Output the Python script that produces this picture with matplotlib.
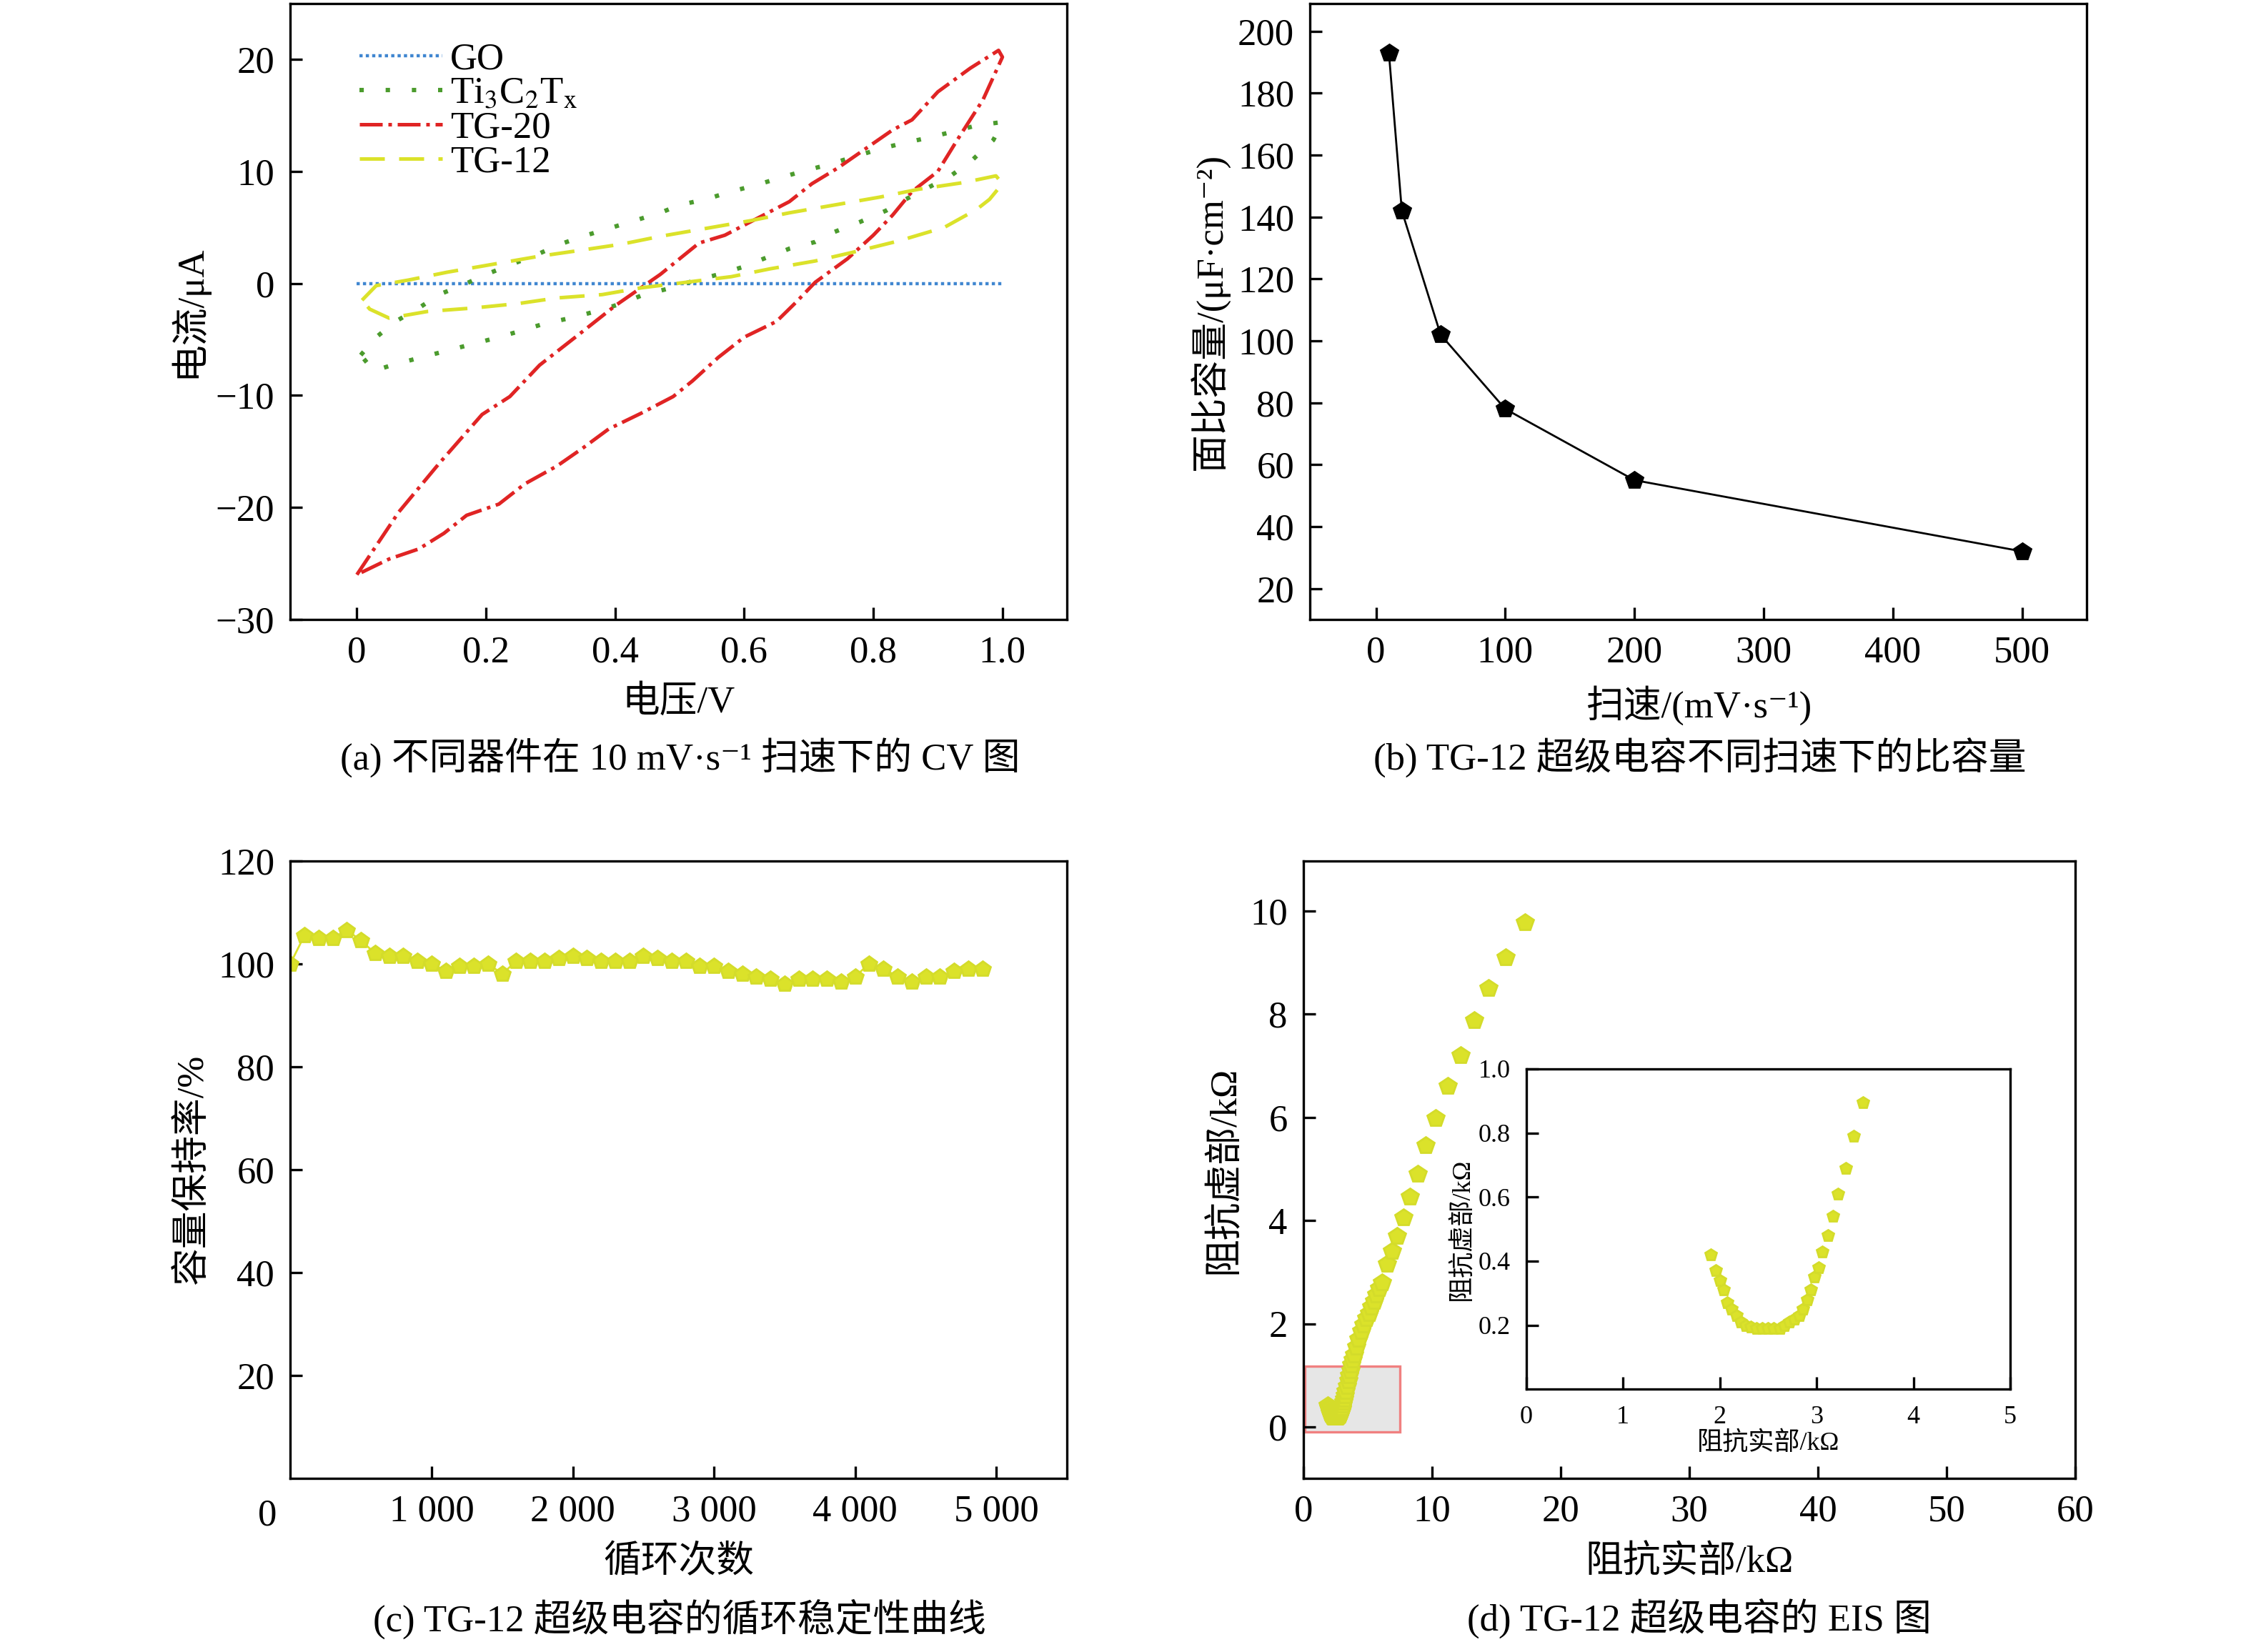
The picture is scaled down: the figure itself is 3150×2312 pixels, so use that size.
import matplotlib
matplotlib.use("Agg")
import matplotlib.pyplot as plt
from matplotlib.patches import Rectangle

plt.rcParams['font.family'] = ['Liberation Serif', 'Noto Sans CJK SC', 'DejaVu Serif']
plt.rcParams['mathtext.fontset'] = 'stix'
plt.rcParams['axes.linewidth'] = 1.2

# (a) CV curves
go_v = [0.0, 1.0]
go_i = [0.0, 0.0]
ti_v = [0.006, 0.03, 0.06, 0.096, 0.127, 0.166, 0.2, 0.24, 0.28, 0.315, 0.35, 0.39, 0.43, 0.47, 0.5, 0.54,
        0.58, 0.62, 0.66, 0.69, 0.73, 0.77, 0.81, 0.845, 0.885, 0.92, 0.96, 1.0,
        0.986, 0.955, 0.92, 0.85, 0.82, 0.78, 0.74, 0.71, 0.67, 0.63, 0.6, 0.56, 0.52, 0.48, 0.44, 0.41,
        0.37, 0.33, 0.29, 0.25, 0.22, 0.18, 0.14, 0.1, 0.06, 0.026, 0.006]
ti_i = [-6.4, -4.8, -3.4, -2.2, -1.0, -0.1, 0.8, 1.7, 2.6, 3.5, 4.2, 4.9, 5.6, 6.3, 7.0, 7.5,
        8.2, 8.8, 9.5, 10.0, 10.6, 11.3, 12.0, 12.5, 13.0, 13.5, 14.1, 14.4,
        12.8, 11.1, 9.6, 7.5, 6.5, 5.5, 4.6, 3.7, 3.1, 2.2, 1.5, 0.8, 0.2, -0.5, -1.1, -1.8,
        -2.5, -3.1, -3.6, -4.3, -4.8, -5.4, -6.0, -6.6, -7.2, -7.8, -6.4]
tg20_v = [0.0, 0.065, 0.127, 0.194, 0.237, 0.283, 0.354, 0.4, 0.47, 0.53, 0.57, 0.64, 0.67, 0.705, 0.745,
          0.79, 0.83, 0.86, 0.9, 0.95, 0.994, 1.0,
          0.97, 0.93, 0.9, 0.86, 0.83, 0.8, 0.76, 0.71, 0.68, 0.65, 0.6, 0.56, 0.52, 0.49, 0.44, 0.39,
          0.35, 0.31, 0.26, 0.22, 0.17, 0.135, 0.096, 0.05, 0.0]
tg20_i = [-26.0, -20.4, -16.1, -11.7, -10.1, -7.3, -4.1, -2.0, 0.8, 3.6, 4.3, 6.4, 7.3, 8.9, 10.3,
          12.1, 13.7, 14.6, 17.1, 19.2, 20.8, 20.2,
          16.4, 12.8, 10.0, 8.2, 6.1, 4.3, 2.2, 0.1, -1.7, -3.4, -4.8, -6.6, -8.7, -10.1, -11.6, -13.0,
          -14.7, -16.3, -17.9, -19.7, -20.7, -22.3, -23.7, -24.6, -26.0]
tg12_v = [0.008, 0.03, 0.08, 0.14, 0.21, 0.28, 0.34, 0.41, 0.47, 0.54, 0.61, 0.67, 0.74, 0.81, 0.87, 0.94,
          0.99, 1.0, 0.98, 0.96, 0.91, 0.84, 0.77, 0.71, 0.64, 0.58, 0.51, 0.44, 0.38, 0.31, 0.25, 0.18,
          0.11, 0.05, 0.02, 0.008]
tg12_i = [-1.5, -0.2, 0.3, 1.0, 1.7, 2.4, 2.9, 3.5, 4.2, 4.9, 5.6, 6.3, 7.0, 7.7, 8.4, 9.0,
          9.6, 8.9, 7.5, 6.6, 5.0, 3.8, 2.8, 2.0, 1.3, 0.6, 0.1, -0.4, -1.0, -1.3, -1.8, -2.2,
          -2.5, -3.1, -2.3, -1.5]

# (b) specific capacitance vs scan rate
rate = [10, 20, 50, 100, 200, 500]
cap = [193, 142, 102, 78, 55, 32]

# (c) cycling stability
cycles = list(range(0, 5000, 100))
retention = [100, 105.5, 105, 105, 106.5, 104.5, 102, 101.5, 101.5, 100.5, 100, 98.5, 99.5, 99.5, 100,
             98, 100.5, 100.5, 100.5, 101, 101.5, 101, 100.5, 100.5, 100.5, 101.5, 101, 100.5, 100.5,
             99.5, 99.5, 98.5, 98, 97.5, 97, 96, 97, 97, 97, 96.5, 97.5, 100, 99, 97.5, 96.5, 97.5,
             97.5, 98.5, 99, 99]

# (d) EIS
z_re_low = [1.91, 1.96, 2.0, 2.04, 2.08, 2.12, 2.17, 2.22, 2.27, 2.32, 2.38, 2.44, 2.5, 2.56, 2.62,
            2.67, 2.72, 2.77, 2.82, 2.86, 2.9, 2.94, 2.98, 3.02, 3.06, 3.12, 3.17, 3.22, 3.3, 3.38, 3.48]
z_im_low = [0.42, 0.37, 0.34, 0.31, 0.27, 0.25, 0.23, 0.21, 0.2, 0.195, 0.19, 0.19, 0.19, 0.19, 0.19,
            0.2, 0.21, 0.22, 0.23, 0.25, 0.28, 0.31, 0.35, 0.38, 0.43, 0.48, 0.54, 0.61, 0.69, 0.79, 0.896]
z_re_high = [3.55, 3.65, 3.75, 3.85, 3.95, 4.1, 4.3, 4.5, 4.7, 4.9, 5.1, 5.3, 5.5, 5.7, 5.9, 6.1,
             6.5, 6.9, 7.3, 7.8, 8.3, 8.9, 9.5, 10.3, 11.2, 12.2, 13.3, 14.4, 15.7, 17.2]
z_im_high = [1.0, 1.1, 1.2, 1.3, 1.4, 1.55, 1.7, 1.85, 1.98, 2.1, 2.2, 2.32, 2.44, 2.56, 2.68, 2.8,
             3.16, 3.4, 3.7, 4.05, 4.46, 4.9, 5.45, 5.98, 6.6, 7.2, 7.87, 8.5, 9.1, 9.77]

fig = plt.figure(figsize=(15.75, 11.56), dpi=200)
FS = 19

def style(ax, fs=FS):
    ax.tick_params(direction='in', labelsize=fs, length=6, width=1.2, top=False, right=False, pad=8)

# (a)
ax = fig.add_axes([0.129, 0.625, 0.345, 0.373])
ax.plot(go_v, go_i, color='#3f86d0', ls=(0, (1, 1)), lw=1.6, label='GO')
ax.plot(ti_v, ti_i, color='#4b9b2d', ls=(0, (1, 5)), lw=2.2, label=r'Ti$_\mathrm{3}$C$_\mathrm{2}$T$_\mathrm{x}$')
ax.plot(tg20_v, tg20_i, color='#e02424', ls='-.', lw=1.8, label='TG-20')
ax.plot(tg12_v, tg12_i, color='#dbe22a', ls=(0, (7, 4)), lw=1.8, label='TG-12')
ax.set_xlim(-0.103, 1.1)
ax.set_ylim(-30, 25)
ax.set_xticks([0, 0.2, 0.4, 0.6, 0.8, 1.0])
ax.set_xticklabels(['0', '0.2', '0.4', '0.6', '0.8', '1.0'])
ax.set_yticks([-30, -20, -10, 0, 10, 20])
ax.set_yticklabels(['−30', '−20', '−10', '0', '10', '20'])
style(ax)
ax.set_xlabel('电压/V', fontsize=FS, labelpad=8)
ax.set_ylabel('电流/μA', fontsize=FS)
ax.legend(loc='upper left', frameon=False, fontsize=FS, handlelength=2.2, handletextpad=0.2,
          labelspacing=0.0, borderaxespad=0.4, bbox_to_anchor=(0.05, 0.985))
fig.text(0.302, 0.541, '(a) 不同器件在 10 mV·s⁻¹ 扫速下的 CV 图', ha='center', va='center', fontsize=FS)

# (b)
ax = fig.add_axes([0.582, 0.625, 0.345, 0.373])
ax.plot(rate, cap, color='black', lw=1.0, marker='p', ms=9)
ax.set_xlim(-51, 550)
ax.set_ylim(10, 209)
ax.set_xticks([0, 100, 200, 300, 400, 500])
ax.set_yticks(range(20, 201, 20))
style(ax)
ax.set_xlabel('扫速/(mV·s⁻¹)', fontsize=FS, labelpad=8)
ax.set_ylabel('面比容量/(μF·cm⁻²)', fontsize=FS)
fig.text(0.755, 0.541, '(b) TG-12 超级电容不同扫速下的比容量', ha='center', va='center', fontsize=FS)

# (c)
ax = fig.add_axes([0.129, 0.105, 0.345, 0.374])
ax.plot(cycles, retention, color='#dbe22a', lw=1.0, marker='p', ms=8, mec='#d4dc2a')
ax.set_xlim(0, 5500)
ax.set_ylim(0, 120)
ax.set_xticks([1000, 2000, 3000, 4000, 5000])
ax.set_xticklabels(['1 000', '2 000', '3 000', '4 000', '5 000'])
ax.set_yticks([20, 40, 60, 80, 100, 120])
style(ax)
ax.text(-0.03, -0.06, '0', transform=ax.transAxes, fontsize=FS, ha='center', va='center')
ax.set_xlabel('循环次数', fontsize=FS, labelpad=8)
ax.set_ylabel('容量保持率/%', fontsize=FS)
fig.text(0.302, 0.02, '(c) TG-12 超级电容的循环稳定性曲线', ha='center', va='center', fontsize=FS)

# (d)
ax = fig.add_axes([0.579, 0.105, 0.343, 0.374])
ax.add_patch(Rectangle((0.1, -0.1), 7.4, 1.28, facecolor='#e6e6e6', edgecolor='#f08080', lw=1.2, zorder=1))
ax.plot(z_re_low + z_re_high, z_im_low + z_im_high, ls='none', marker='p', ms=9,
        color='#dbe22a', mec='#d4dc2a', zorder=3)
ax.set_xlim(0, 60)
ax.set_ylim(-1, 10.97)
ax.set_xticks(range(0, 61, 10))
ax.set_yticks(range(0, 11, 2))
style(ax)
ax.set_xlabel('阻抗实部/kΩ', fontsize=FS, labelpad=8)
ax.set_ylabel('阻抗虚部/kΩ', fontsize=FS)
fig.text(0.755, 0.02, '(d) TG-12 超级电容的 EIS 图', ha='center', va='center', fontsize=FS)

ins = fig.add_axes([0.678, 0.159, 0.215, 0.194])
ins.plot(z_re_low, z_im_low, ls='none', marker='p', ms=6, color='#dbe22a', mec='#d4dc2a')
ins.set_xlim(0, 5)
ins.set_ylim(0, 1.0)
ins.set_xticks([0, 1, 2, 3, 4, 5])
ins.set_yticks([0.2, 0.4, 0.6, 0.8, 1.0])
style(ins, 13)
ins.set_xlabel('阻抗实部/kΩ', fontsize=13, labelpad=1)
ins.set_ylabel('阻抗虚部/kΩ', fontsize=13, labelpad=2)

fig.savefig('out.png', dpi=200)
